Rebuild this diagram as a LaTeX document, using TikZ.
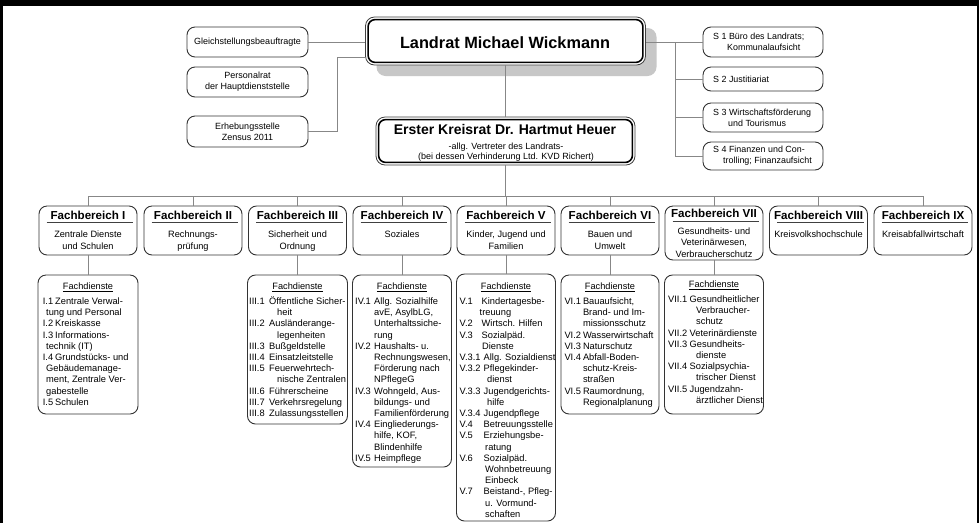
\documentclass[tikz,border=0pt]{standalone}
\usepackage{fontspec}
\setmainfont{Liberation Sans}
\usetikzlibrary{shadows}
\newcommand{\fdlab}[2]{\makebox[#1pt][l]{#2}}
\newcommand{\fdind}[1]{\hspace*{#1pt}}
\begin{document}
\begin{tikzpicture}[x=1pt,y=-1pt,
  conn/.style={draw=black!47, line width=0.9pt},
  rbox/.style={draw=black!80, line width=0.9pt, rounded corners=8pt, inner sep=0pt, fill=white},
  dblbox/.style={draw=black!75, line width=0.8pt, rounded corners=9pt, inner sep=0pt, fill=white},
  innerline/.style={draw=black, line width=1.6pt, rounded corners=7pt},
  stafftext/.style={align=center, font=\fontsize{9}{11}\selectfont},
  stext/.style={anchor=west, inner sep=0pt, align=left, font=\fontsize{8.9}{11}\selectfont},
  fbtitle/.style={anchor=base, inner sep=0pt, font=\fontsize{11.6}{13}\selectfont\bfseries},
  fbsub/.style={anchor=north, inner sep=0pt, align=center, font=\fontsize{9.2}{12}\selectfont},
  fbrule/.style={draw=black!75, line width=0.8pt},
  fdhead/.style={anchor=base, inner sep=0pt, font=\fontsize{9.2}{11}\selectfont},
  fdtext/.style={anchor=north west, inner sep=0pt, align=left, font=\fontsize{9.3}{11.2}\selectfont},
]
\useasboundingbox (0,0) rectangle (979,523);
\fill[white] (0,0) rectangle (979,523);
% frame
\fill[black] (0,0) rectangle (979,5.5);
\fill[black] (0,0) rectangle (3,523);
\fill[black] (976.5,0) rectangle (979,523);

% Landrat
\node[dblbox, minimum width=280pt, minimum height=48pt,
      drop shadow={shadow xshift=11pt, shadow yshift=-11pt, fill=black!22, opacity=1}] (land) at (505.5,41) {};
\draw[innerline] ([shift={(3pt,-3pt)}]land.north west) rectangle ([shift={(-3pt,3pt)}]land.south east);
\node[anchor=base, inner sep=0pt, font=\fontsize{16.3}{18}\selectfont\bfseries] (landt) at (505,48) {Landrat Michael Wickmann};

% Erster Kreisrat
\node[dblbox, minimum width=259pt, minimum height=48pt] (erst) at (505.5,141) {};
\draw[innerline] ([shift={(3pt,-3pt)}]erst.north west) rectangle ([shift={(-3pt,3pt)}]erst.south east);
\node[anchor=base, inner sep=0pt, font=\fontsize{14}{16}\selectfont\bfseries] (erstt) at (505,134.5) {Erster Kreisrat Dr. Hartmut Heuer};
\node[anchor=base, inner sep=0pt, font=\fontsize{9}{10}\selectfont] (erst1) at (506,149) {-allg. Vertreter des Landrats-};
\node[anchor=base, inner sep=0pt, font=\fontsize{9}{10}\selectfont] (erst2) at (506,159) {(bei dessen Verhinderung Ltd. KVD Richert)};

% staff left
\node[rbox, stafftext, minimum width=121pt, minimum height=30pt] (gl) at (247.5,42) {Gleichstellungsbeauftragte};
\node[rbox, stafftext, minimum width=121pt, minimum height=30pt] (pr) at (247.5,82) {Personalrat\\der Hauptdienststelle};
\node[rbox, stafftext, minimum width=121pt, minimum height=31pt] (eh) at (247.5,131.5) {Erhebungsstelle\\Zensus 2011};

% staff right
\node[rbox, minimum width=120pt, minimum height=30pt] (s1) at (763,42) {};
\node[rbox, minimum width=120pt, minimum height=24pt] (s2) at (763,79) {};
\node[rbox, minimum width=120pt, minimum height=29pt] (s3) at (763,117.5) {};
\node[rbox, minimum width=120pt, minimum height=28pt] (s4) at (763,156) {};
\node[stext] (s1t) at (713,42) {S 1 Büro des Landrats;\\\fdind{14}Kommunalaufsicht};
\node[stext] (s2t) at (713,79) {S 2 Justitiariat};
\node[stext] (s3t) at (713,117.5) {S 3 Wirtschaftsförderung\\\fdind{15}und Tourismus};
\node[stext] (s4t) at (713,156) {S 4 Finanzen und Con-\\\fdind{10}trolling; Finanzaufsicht};

% Fachbereiche
\foreach \cx/\n/\r/\h/\ty in {88/1/I/49/219.3, 193/2/II/49/219.3, 297.5/3/III/49/219.3, 402/4/IV/49/219.3, 506/5/V/49/219.3, 610/6/VI/49/219.3, 714/7/VII/54/217.5, 818.5/8/VIII/49/219.3, 923/9/IX/49/219.3} {
  \node[rbox, minimum width=98pt, minimum height=\h*1pt] (fb\n) at (\cx,206+\h/2) {};
  \node[fbtitle] (fbt\n) at (\cx,\ty) {Fachbereich \r};
}
\foreach \n in {1,2,3,4,5,6,8,9} {
  \draw[fbrule] ([xshift=8pt,yshift=-17pt]fb\n.north west) -- ([xshift=-4pt,yshift=-17pt]fb\n.north east);
}
\draw[fbrule] ([xshift=8pt,yshift=-16pt]fb7.north west) -- ([xshift=-4pt,yshift=-16pt]fb7.north east);

\node[fbsub] (fbs1) at (88,229.2) {\rule{0pt}{8pt}Zentrale Dienste\\und Schulen};
\node[fbsub] (fbs2) at (193,229.2) {\rule{0pt}{8pt}Rechnungs-\\prüfung};
\node[fbsub] (fbs3) at (297.5,229.2) {\rule{0pt}{8pt}Sicherheit und\\Ordnung};
\node[fbsub] (fbs4) at (402,229.2) {\rule{0pt}{8pt}Soziales};
\node[fbsub] (fbs5) at (506,229.2) {\rule{0pt}{8pt}Kinder, Jugend und\\Familien};
\node[fbsub] (fbs6) at (610,229.2) {\rule{0pt}{8pt}Bauen und\\Umwelt};
\node[fbsub, font=\fontsize{9.2}{11.5}\selectfont] (fbs7) at (714,226.2) {\rule{0pt}{8pt}Gesundheits- und\\Veterinärwesen,\\Verbraucherschutz};
\node[fbsub] (fbs8) at (818.5,229.2) {\rule{0pt}{8pt}Kreisvolkshochschule};
\node[fbsub] (fbs9) at (923,229.2) {\rule{0pt}{8pt}Kreisabfallwirtschaft};

% Fachdienste boxes
\node[rbox, minimum width=100pt, minimum height=139pt] (fd1) at (88,344.5) {};
\node[rbox, minimum width=100pt, minimum height=149pt] (fd3) at (297.5,349.5) {};
\node[rbox, minimum width=99pt, minimum height=192pt] (fd4) at (402,371) {};
\node[rbox, minimum width=99pt, minimum height=247pt] (fd5) at (506,397.5) {};
\node[rbox, minimum width=98pt, minimum height=139pt] (fd6) at (610,344.5) {};
\node[rbox, minimum width=99pt, minimum height=139pt] (fd7) at (714,344.5) {};

\foreach \n/\cx in {1/88, 3/297.5, 4/402, 5/506, 6/610} {
  \node[fdhead] (fd\n h) at (\cx,289.3) {\underline{Fachdienste}};
}
\node[fdhead] (fd7h) at (714,287.5) {\underline{Fachdienste}};

\node[fdtext] (fd1t) at (42.7,295.2) {\rule{0pt}{9pt}\fdlab{12.3}{I.1}Zentrale Verwal-\\
\fdind{3.3}tung und Personal\\
\fdlab{12.3}{I.2}Kreiskasse\\
\fdlab{12.3}{I.3}Informations-\\
\fdind{3.3}technik (IT)\\
\fdlab{12.3}{I.4}Grundstücks- und\\
\fdind{3.3}Gebäudemanage-\\
\fdind{3.3}ment, Zentrale Ver-\\
\fdind{3.3}gabestelle\\
\fdlab{12.3}{I.5}Schulen};

\node[fdtext] (fd3t) at (249,295.2) {\rule{0pt}{9pt}\fdlab{20}{III.1}Öffentliche Sicher-\\
\fdind{28}heit\\
\fdlab{20}{III.2}Ausländerange-\\
\fdind{28}legenheiten\\
\fdlab{20}{III.3}Bußgeldstelle\\
\fdlab{20}{III.4}Einsatzleitstelle\\
\fdlab{20}{III.5}Feuerwehrtech-\\
\fdind{28}nische Zentralen\\
\fdlab{20}{III.6}Führerscheine\\
\fdlab{20}{III.7}Verkehrsregelung\\
\fdlab{20}{III.8}Zulassungsstellen};

\node[fdtext] (fd4t) at (355,295.2) {\rule{0pt}{9pt}\fdlab{19}{IV.1}Allg. Sozialhilfe\\
\fdind{19}avE, AsylbLG,\\
\fdind{19}Unterhaltssiche-\\
\fdind{19}rung\\
\fdlab{19}{IV.2}Haushalts- u.\\
\fdind{19}Rechnungswesen,\\
\fdind{19}Förderung nach\\
\fdind{19}NPflegeG\\
\fdlab{19}{IV.3}Wohngeld, Aus-\\
\fdind{19}bildungs- und\\
\fdind{19}Familienförderung\\
\fdlab{19}{IV.4}Eingliederungs-\\
\fdind{19}hilfe, KOF,\\
\fdind{19}Blindenhilfe\\
\fdlab{19}{IV.5}Heimpflege};

\node[fdtext] (fd5t) at (459.5,295.2) {\rule{0pt}{9pt}\fdlab{22}{V.1}Kindertagesbe-\\
\fdind{20}treuung\\
\fdlab{22}{V.2}Wirtsch. Hilfen\\
\fdlab{22}{V.3}Sozialpäd.\\
\fdind{22.5}Dienste\\
\fdlab{24}{V.3.1}Allg. Sozialdienst\\
\fdlab{24}{V.3.2}Pflegekinder-\\
\fdind{27.5}dienst\\
\fdlab{24}{V.3.3}Jugendgerichts-\\
\fdind{27.5}hilfe\\
\fdlab{24}{V.3.4}Jugendpflege\\
\fdlab{24}{V.4}Betreuungsstelle\\
\fdlab{24}{V.5}Erziehungsbe-\\
\fdind{25.5}ratung\\
\fdlab{24}{V.6}Sozialpäd.\\
\fdind{25.5}Wohnbetreuung\\
\fdind{25.5}Einbeck\\
\fdlab{24}{V.7}Beistand-, Pfleg-\\
\fdind{25.5}u. Vormund-\\
\fdind{25.5}schaften};

\node[fdtext] (fd6t) at (564.3,295.2) {\rule{0pt}{9pt}\fdlab{18.5}{VI.1}Bauaufsicht,\\
\fdind{18.5}Brand- und Im-\\
\fdind{18.5}missionsschutz\\
\fdlab{18.5}{VI.2}Wasserwirtschaft\\
\fdlab{18.5}{VI.3}Naturschutz\\
\fdlab{18.5}{VI.4}Abfall-Boden-\\
\fdind{18.5}schutz-Kreis-\\
\fdind{18.5}straßen\\
\fdlab{18.5}{VI.5}Raumordnung,\\
\fdind{18.5}Regionalplanung};

\node[fdtext] (fd7t) at (668,293.2) {\rule{0pt}{9pt}\fdlab{21.5}{VII.1}Gesundheitlicher\\
\fdind{28}Verbraucher-\\
\fdind{28}schutz\\
\fdlab{21.5}{VII.2}Veterinärdienste\\
\fdlab{21.5}{VII.3}Gesundheits-\\
\fdind{28}dienste\\
\fdlab{21.5}{VII.4}Sozialpsychia-\\
\fdind{28}trischer Dienst\\
\fdlab{21.5}{VII.5}Jugendzahn-\\
\fdind{28}ärztlicher Dienst};

% connectors
\coordinate (ehk) at (337,57);
\coordinate (rtop) at (675,42);
\coordinate (bus) at (505.5,196);
\draw[conn] (gl.east) -- (gl.east -| land.west);
\draw[conn] (eh.east) -| (ehk) -- (ehk -| land.west);
\draw[conn] (land.south) -- (erst.north);
\draw[conn] (s1.west -| land.east) -- (s1.west);
\draw[conn] (rtop) |- (s4.west);
\draw[conn] (rtop |- s2.west) -- (s2.west);
\draw[conn] (rtop |- s3.west) -- (s3.west);
\draw[conn] (erst.south) -- (bus);
\draw[conn] (fb1.north |- bus) -- (fb9.north |- bus);
\foreach \n in {1,...,9} {
  \draw[conn] (fb\n.north |- bus) -- (fb\n.north);
}
\foreach \n in {1,3,4,5,6,7} {
  \draw[conn] (fb\n.south) -- (fd\n.north);
}
\end{tikzpicture}
\end{document}
